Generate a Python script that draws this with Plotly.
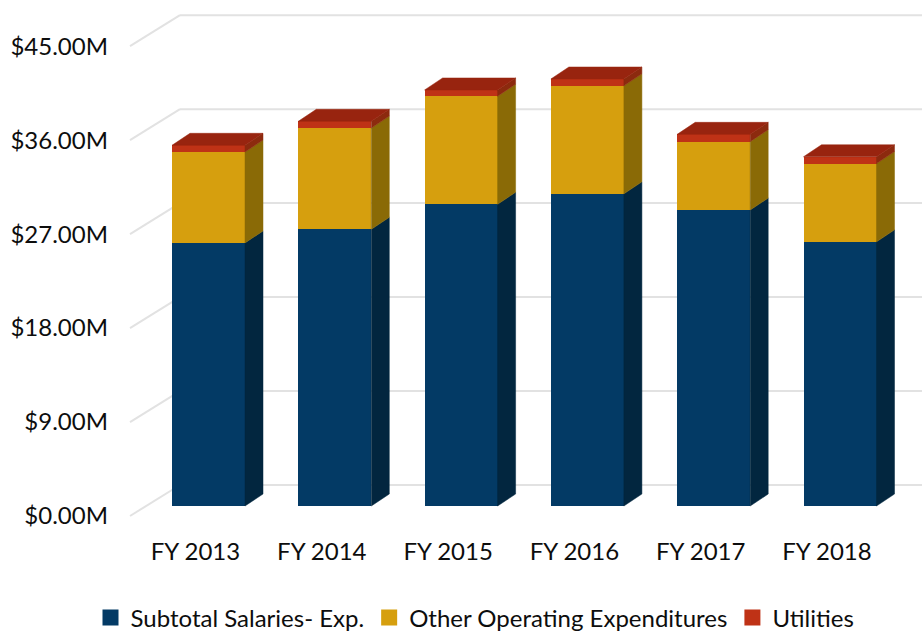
import plotly.graph_objects as go

# values in $M
years = ["FY 2013", "FY 2014", "FY 2015", "FY 2016", "FY 2017", "FY 2018"]
salaries = [25.2, 26.5, 28.9, 29.9, 28.35, 25.3]
other_opex = [8.7, 9.7, 10.35, 10.35, 6.55, 7.5]
utilities = [0.65, 0.65, 0.6, 0.65, 0.7, 0.65]
y_ticks = [0, 9, 18, 27, 36, 45]
y_labels = ["$0.00M", "$9.00M", "$18.00M", "$27.00M", "$36.00M", "$45.00M"]

series = [
    ("Subtotal Salaries- Exp.", salaries, "#033a65", "#02263f"),
    ("Other Operating Expenditures", other_opex, "#d69f0e", "#8a6a06"),
    ("Utilities", utilities, "#bf3216", "#8c2a0e"),
]

W, H = 922, 633
LEFT, BOTTOM = 109, 535
# pixel to data unit conversion for the fake 3d offsets
PX_X = 1 / 126.3
PX_Y = 1 / 10.44
BAR_W = 73 * PX_X
DEPTH_X = 18 * PX_X
DEPTH_Y = 12 * PX_Y
FONT = "Lato"
TEXT = "#0d0d0d"

x_pos = list(range(len(years)))
fig = go.Figure()

# stacked front faces
for name, vals, color, side in series:
    fig.add_trace(go.Bar(x=x_pos, y=vals, name=name, width=BAR_W, showlegend=False,
                         marker=dict(color=color, line=dict(width=0))))

# side faces and the top lid, worked out from the stacks
base = [0] * len(years)
for name, vals, color, side in series:
    for i in x_pos:
        r = i + BAR_W / 2
        y0 = base[i]
        y1 = base[i] + vals[i]
        fig.add_trace(go.Scatter(
            x=[r, r + DEPTH_X, r + DEPTH_X, r, r],
            y=[y0, y0 + DEPTH_Y, y1 + DEPTH_Y, y1, y0],
            mode="lines", fill="toself", fillcolor=side,
            line=dict(width=0.5, color=side), hoverinfo="skip", showlegend=False))
        base[i] = y1

for i in x_pos:
    l = i - BAR_W / 2
    r = i + BAR_W / 2
    fig.add_trace(go.Scatter(
        x=[l, r, r + DEPTH_X, l + DEPTH_X, l],
        y=[base[i], base[i], base[i] + DEPTH_Y, base[i] + DEPTH_Y, base[i]],
        mode="lines", fill="toself", fillcolor="#98240f",
        line=dict(width=0.5, color="#98240f"), hoverinfo="skip", showlegend=False))

# legend only entries, bars cant have bigger swatches
for name, vals, color, side in series:
    fig.add_trace(go.Scatter(x=[None], y=[None], name=name, mode="markers",
                             marker=dict(symbol="square", size=16, color=color)))

# value 0 sits at y=506 on the bars, the grid floor is offset from that
x_left = (130 - 208.5) * PX_X
x_back = (180 - 208.5) * PX_X
x_end = (922 - 208.5) * PX_X
front_off = -10 * PX_Y
back_off = 21 * PX_Y
shapes = []
for t in y_ticks:
    shapes.append(dict(type="line", layer="below", x0=x_left, x1=x_back,
                       y0=t + front_off, y1=t + back_off,
                       line=dict(color="#e2e2e2", width=2)))
    shapes.append(dict(type="line", layer="below", x0=x_back, x1=x_end,
                       y0=t + back_off, y1=t + back_off,
                       line=dict(color="#e2e2e2", width=2)))

fig.update_layout(
    width=W, height=H,
    margin=dict(l=LEFT, r=0, t=0, b=H - BOTTOM, autoexpand=False),
    paper_bgcolor="white", plot_bgcolor="white",
    barmode="stack",
    font=dict(family=FONT, size=24, color=TEXT),
    shapes=shapes,
    showlegend=True,
    legend=dict(orientation="h", x=(475 - LEFT) / (W - LEFT), xanchor="center",
                y=(BOTTOM - 618) / BOTTOM, yanchor="middle",
                traceorder="normal", font=dict(size=24), bgcolor="rgba(0,0,0,0)"),
    xaxis=dict(range=[(LEFT - 208.5) * PX_X, (W - 208.5) * PX_X], showgrid=False, zeroline=False,
               tickmode="array", tickvals=[i - 13 * PX_X for i in x_pos], ticktext=years,
               ticks="", showline=False, automargin=False),
    yaxis=dict(range=[(506 - BOTTOM) * PX_Y, 506 * PX_Y], showgrid=False, zeroline=False,
               tickmode="array", tickvals=[t - 10 * PX_Y for t in y_ticks], ticktext=y_labels,
               ticks="", showline=False, automargin=False),
)

fig.write_html("out.html", config={"displayModeBar": False},
               post_script="document.body.style.margin='0';")
